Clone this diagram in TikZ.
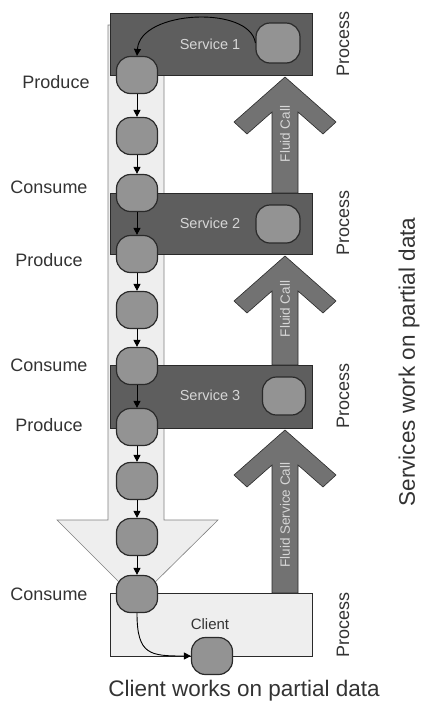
\documentclass[tikz,border=0pt]{standalone}
\usepackage{fontspec}
\setmainfont{Liberation Sans}
\usepackage{xcolor}
\usetikzlibrary{arrows.meta}
\definecolor{darkbox}{HTML}{5E5E5E}
\definecolor{lightbg}{HTML}{EEEEEE}
\definecolor{blobfill}{HTML}{939393}
\definecolor{callgray}{HTML}{727272}
\definecolor{edge}{HTML}{2A2A2A}
\definecolor{paletext}{HTML}{D6D6D6}
\definecolor{inktext}{HTML}{333333}
\tikzset{blob/.style={rectangle,rounded corners=14pt,draw=edge,line width=1.2pt,fill=blobfill,minimum width=41pt,minimum height=37pt,inner sep=0pt},
  svcbox/.style={draw=edge,line width=0.8pt,fill=darkbox},
  side/.style={font=\fontsize{18}{20}\selectfont,text=inktext},
  proc/.style={side,rotate=90},
  callarrow/.style={draw=edge,line width=0.6pt,fill=callgray},
  calltext/.style={font=\fontsize{13.5}{15}\selectfont,text=paletext,rotate=90},
  flow/.style={-{Triangle[length=7pt,width=7pt]},line width=0.9pt}}

\begin{document}
\begin{tikzpicture}[x=1pt,y=-1pt]
\useasboundingbox (0,0) rectangle (423,702);
% stream of partial data
\draw[draw=gray,line width=0.6pt,fill=lightbg] (108,25) -- (164,25) -- (164,520) -- (218,520) -- (137,600) -- (57,520) -- (108,520) -- cycle;
\foreach \t/\b in {13/75,193/254,365/428}{\draw[svcbox] (110,\t) rectangle (312,\b);}
\draw[draw=edge,line width=0.8pt,fill=lightbg] (110,593) rectangle (312,656);
% fluid calls
\foreach \t/\b in {77/193,256/365,430/593}{
\draw[callarrow] (285,\t) -- (336,\t+45) -- (323,\t+57) -- (298,\t+35) -- (298,\b) -- (272,\b) -- (272,\t+35) -- (247,\t+57) -- (234,\t+45) -- cycle;}
\node[calltext] (call1) at (285,134) {Fluid Call};
\node[calltext] (call2) at (285,309) {Fluid Call};
\node[calltext] (call3) at (285,515) {Fluid Service Call};
\node[font=\fontsize{14.5}{16}\selectfont,text=paletext] (svc1) at (210,44) {Service 1};
\node[font=\fontsize{14.5}{16}\selectfont,text=paletext] (svc2) at (210,223) {Service 2};
\node[font=\fontsize{14.5}{16}\selectfont,text=paletext] (svc3) at (210,395) {Service 3};
\node[font=\fontsize{15}{17}\selectfont,text=inktext] (cli) at (210,624) {Client};
% data items
\foreach \i/\y in {1/75,2/136,3/193,4/254,5/310,6/366,7/427,8/481,9/537,10/594}{\node[blob] (n\i) at (137,\y) {};}
\node[blob,minimum width=44pt,minimum height=40pt] (s1) at (278,43) {};
\node[blob,minimum width=44pt,minimum height=38pt] (s2) at (278,224) {};
\node[blob,minimum width=43pt,minimum height=38pt] (s3) at (284,396) {};
\node[blob] (c) at (212,656) {};
\foreach \a/\b in {1/2,2/3,3/4,4/5,5/6,6/7,7/8,8/9,9/10}{\draw[flow] (n\a) -- (n\b);}
\draw[flow] (s1.west) .. controls (250,5) and (140,10) .. (n1.north);
\draw[flow] (n10.south) .. controls (137,655) and (150,656) .. (c.west);
% labels
\node[side] (prod1) at (56,82) {Produce};
\node[side] (cons1) at (49,187) {Consume};
\node[side] (prod2) at (49,260) {Produce};
\node[side] (cons2) at (49,365) {Consume};
\node[side] (prod3) at (49,425) {Produce};
\node[side] (cons3) at (49,594) {Consume};
\node[proc] (proc1) at (343,44) {Process};
\node[proc] (proc2) at (343,223) {Process};
\node[proc] (proc3) at (343,396) {Process};
\node[proc] (proc4) at (343,625) {Process};
\node[font=\fontsize{22.5}{25}\selectfont,text=inktext,rotate=90] (srvnote) at (409,362) {Services work on partial data};
\node[font=\fontsize{22.5}{25}\selectfont,text=inktext] (clinote) at (244,691) {Client works on partial data};
\end{tikzpicture}
\end{document}
